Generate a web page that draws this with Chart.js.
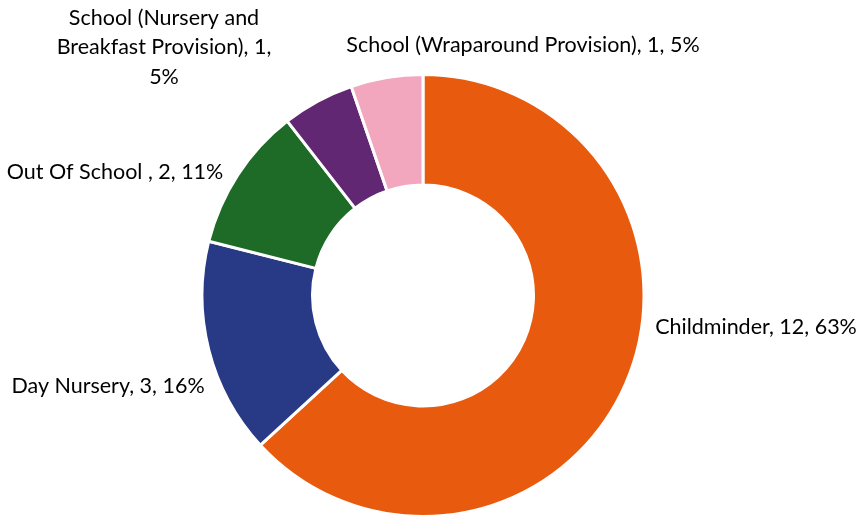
<!DOCTYPE html>
<html>
<head>
<meta charset="utf-8">
<script src="https://cdn.jsdelivr.net/npm/chart.js@4.4.1/dist/chart.umd.min.js"></script>
<style>
  html, body { margin: 0; padding: 0; background: #fff; }
  #wrap { width: 862px; height: 518px; position: relative; }
</style>
</head>
<body>
<div id="wrap"><canvas id="providerChart"></canvas></div>
<script>
// Data provider
const categories = [
    'Childminder',
    'Day Nursery',
    'Out Of School ',
    'School (Nursery and Breakfast Provision)',
    'School (Wraparound Provision)'
];
const counts = [12, 3, 2, 1, 1];
const percents = ['63%', '16%', '11%', '5%', '5%'];

const sliceColors = ['#E85A0D', '#283A85', '#1D6B27', '#612773', '#F2A7BF'];

// posisi label (tengah teks, baris pertama), mengikuti gambar
const labelPos = [
    { x: 756, y: 327, lines: null },
    { x: 108, y: 386, lines: null },
    { x: 115, y: 172, lines: null },
    { x: 164, y: 18, lines: ['School (Nursery and', 'Breakfast Provision), 1,', '5%'] },
    { x: 523, y: 45, lines: null }
];

const outsideLabels = {
    id: 'outsideLabels',
    afterDatasetsDraw(chart) {
        const ctx = chart.ctx;
        ctx.save();
        ctx.font = '21.5px Lato';
        ctx.fillStyle = '#000';
        ctx.textAlign = 'center';
        ctx.textBaseline = 'middle';
        categories.forEach((cat, i) => {
            const p = labelPos[i];
            const lines = p.lines || [`${cat}, ${counts[i]}, ${percents[i]}`];
            lines.forEach((ln, j) => ctx.fillText(ln, p.x, p.y + j * 29.5));
        });
        ctx.restore();
    }
};

new Chart(document.getElementById('providerChart').getContext('2d'), {
    type: 'doughnut',
    data: {
        labels: categories,
        datasets: [{
            data: counts,
            backgroundColor: sliceColors,
            borderColor: '#fff',
            borderWidth: 3
        }]
    },
    options: {
        responsive: true,
        maintainAspectRatio: false,
        animation: false,
        cutout: '50%',
        layout: { padding: { top: 73, bottom: 0, left: 0, right: 16 } },
        plugins: {
            legend: { display: false },
            tooltip: { enabled: false }
        }
    },
    plugins: [outsideLabels]
});
</script>
</body>
</html>
